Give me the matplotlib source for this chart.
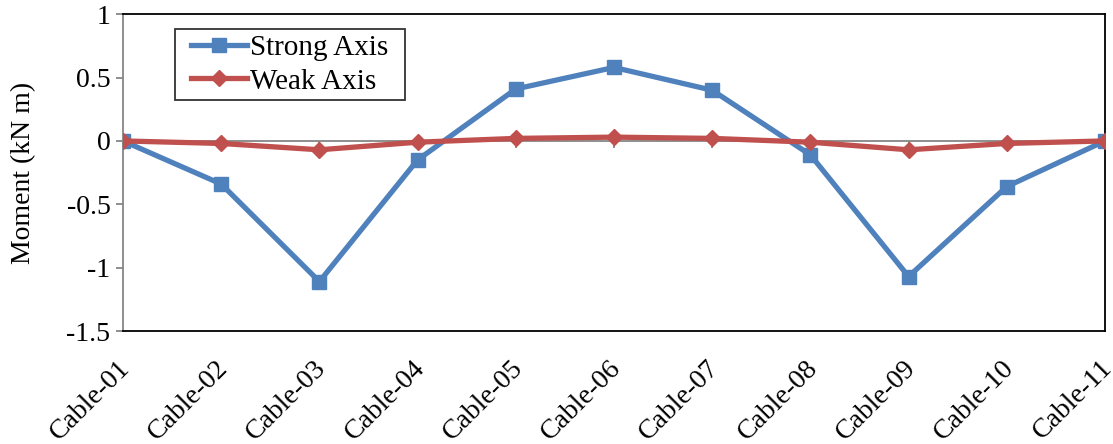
import matplotlib.pyplot as plt
import matplotlib.transforms as mtransforms
from matplotlib.path import Path
import numpy as np

plt.rcParams['font.family'] = ['Liberation Serif', 'DejaVu Serif']

# moment in each cable, kN m
cables = ['Cable-01', 'Cable-02', 'Cable-03', 'Cable-04', 'Cable-05', 'Cable-06',
          'Cable-07', 'Cable-08', 'Cable-09', 'Cable-10', 'Cable-11']
strong = [0.0, -0.34, -1.11, -0.15, 0.41, 0.58, 0.40, -0.11, -1.07, -0.36, 0.0]
weak = [0.0, -0.02, -0.07, -0.01, 0.02, 0.03, 0.02, -0.01, -0.07, -0.02, 0.0]

x = np.arange(len(cables))
grey = '#868686'


def wide_box(x0, y0, width, height, mutation_size, padx=11):
    # square frame with extra room left and right only
    x0 -= padx
    width += 2 * padx
    return Path([(x0, y0), (x0 + width, y0), (x0 + width, y0 + height),
                 (x0, y0 + height), (x0, y0)], closed=True)


fig = plt.figure(figsize=(11.13, 4.44), dpi=100)
ax = fig.add_axes([0.1105, 0.2545, 0.8823, 0.7135])

ax.plot(x, strong, color='#4F81BD', lw=3.8, marker='s', ms=10.5, label='Strong Axis', zorder=3)
ax.plot(x, weak, color='#C0504D', lw=3.8, marker='D', ms=8, label='Weak Axis', zorder=4)

ax.set_xlim(0, len(cables) - 1)
ax.set_ylim(-1.5, 1)
ax.set_yticks([-1.5, -1, -0.5, 0, 0.5, 1])
ax.set_yticklabels(['-1.5', '-1', '-0.5', '0', '0.5', '1'], fontsize=20)
ax.set_ylabel('Moment (kN m)', fontsize=20, labelpad=22)

# frame: grey value axis on the left, black border elsewhere
for s in ['top', 'right', 'bottom']:
    ax.spines[s].set_color('black')
    ax.spines[s].set_linewidth(1.3)
ax.spines['left'].set_color(grey)
ax.spines['left'].set_linewidth(1.3)
ax.tick_params(axis='y', direction='out', length=5, width=1.3, color=grey, pad=4)

ax.set_xticks(x)
ax.set_xticklabels(cables, fontsize=20, rotation=45, ha='right', rotation_mode='anchor')
ax.tick_params(axis='x', length=0, pad=17.5)
shift = mtransforms.ScaledTranslation(-5.5 / 100, 0, fig.dpi_scale_trans)
for lbl in ax.get_xticklabels():
    lbl.set_transform(lbl.get_transform() + shift)

# category axis crossing at zero
zero_axis = ax.secondary_xaxis(0.6)
zero_axis.set_alignment('bottom')
zero_axis.set_xticks(x)
zero_axis.set_xticklabels([])
for s in zero_axis.spines.values():
    s.set_color(grey)
    s.set_linewidth(1.3)
zero_axis.tick_params(axis='x', direction='out', length=5, width=1.3, color=grey)

leg = ax.legend(loc='upper left', bbox_to_anchor=(0.0642, 0.9527), fontsize=21,
                frameon=True, fancybox=False, edgecolor='black', handlelength=1.92,
                borderpad=0.18, labelspacing=0.25, handletextpad=0.1, borderaxespad=0)
leg.get_frame().set_boxstyle(wide_box)
leg.get_frame().set_linewidth(1.3)

fig.savefig('out.png', dpi=100)
